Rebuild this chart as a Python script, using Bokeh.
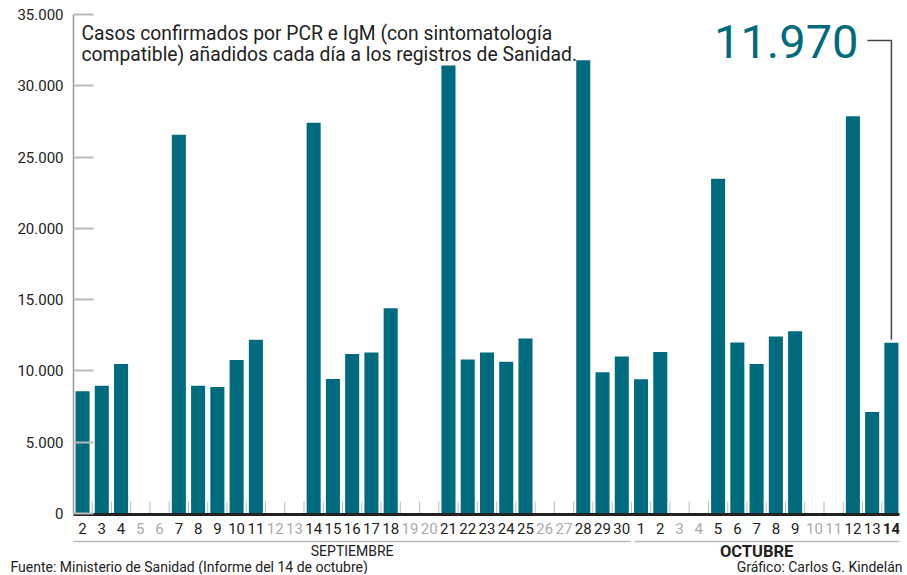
from bokeh.plotting import figure
from bokeh.layouts import column
from bokeh.models import Range1d, FixedTicker, LinearAxis, ColumnDataSource
from bokeh.core.properties import value
from bokeh.embed import file_html
from bokeh.resources import INLINE

# ---------------- data ----------------
sep_days = list(range(2, 31))
oct_days = list(range(1, 15))
days = sep_days + oct_days
# None = no report that day (weekends)
cases = [8580, 8960, 10480, None, None, 26560, 8960, 8870, 10760, 12180, None, None,
         27400, 9440, 11190, 11290, 14390, None, None, 31430, 10800, 11290, 10650, 12270,
         None, None, 31790, 9910, 11020,
         9420, 11330, None, None, 23480, 12000, 10490, 12420, 12790, None, None,
         27860, 7120, 11970]
y_ticks = [0, 5000, 10000, 15000, 20000, 25000, 30000, 35000]
y_tick_labels = ["0", "5.000", "10.000", "15.000", "20.000", "25.000", "30.000", "35.000"]
month_names = ["SEPTIEMBRE", "OCTUBRE"]
subtitle = ["Casos confirmados por PCR e IgM (con sintomatología",
            "compatible) añadidos cada día a los registros de Sanidad."]
highlight_label = "11.970"
source_text = "Fuente: Ministerio de Sanidad (Informe del 14 de octubre)"
credit_text = "Gráfico: Carlos G. Kindelán"

TEAL = "#006b7e"
DARK = "#222222"
GREY = "#aaaaaa"
LINE_GREY = "#bbbbbb"
FONT = "Roboto"

n = len(days)
n_sep = len(sep_days)
idx = list(range(n))
px = 35000 / 499.0   # data units per pixel (vertical)

W, H_MAIN, H_FOOT = 905, 559, 15

p = figure(width=W, height=H_MAIN, output_backend="svg", toolbar_location=None,
           x_range=Range1d(-0.47, 42.42), y_range=Range1d(-(H_MAIN - 513) * px, 35000),
           x_axis_type=None, y_axis_type=None,
           min_border_left=73, min_border_right=W - 899, min_border_top=14,
           min_border_bottom=0)
p.outline_line_color = None
p.xgrid.visible = False
p.ygrid.visible = False
p.frame_align = False

# y axis
yax = LinearAxis(ticker=FixedTicker(ticks=y_ticks), bounds=(0, 35000),
                 major_label_overrides={t: l for t, l in zip(y_ticks, y_tick_labels)})
yax.axis_line_color = "#999999"
yax.axis_line_width = 1.5
yax.major_tick_in = 20
yax.major_tick_out = 0
yax.major_tick_line_color = LINE_GREY
yax.major_tick_line_width = 2
yax.minor_tick_line_color = None
yax.major_label_standoff = 10
yax.major_label_text_font = FONT
yax.major_label_text_font_size = "15px"
yax.major_label_text_color = DARK
p.add_layout(yax, "left")

# bars
bar_x = [i for i in idx if cases[i] is not None]
bar_top = [cases[i] for i in idx if cases[i] is not None]
p.vbar(x=bar_x, top=bar_top, width=0.73, bottom=0, fill_color=TEAL, line_color=None)

# day boundary ticks and baseline
bx = [i + 0.5 for i in idx[:-1]]
p.segment(x0=bx, x1=bx, y0=[0] * len(bx), y1=[12 * px] * len(bx),
          line_color=LINE_GREY, line_width=1)
p.segment(x0=[-0.5], x1=[n - 0.5], y0=[-1 * px], y1=[-1 * px],
          line_color=DARK, line_width=3)

# day labels
lab_src = ColumnDataSource(dict(
    x=idx, y=[-15 * px] * n, text=[str(d) for d in days],
    color=[GREY if c is None else DARK for c in cases],
    style=["normal"] * (n - 1) + ["bold"]))
p.text(x="x", y="y", text="text", source=lab_src, text_align="center",
       text_baseline="middle", text_font=value(FONT), text_font_size=value("15px"),
       text_color="color", text_font_style="style")

# month underlines and names
p.segment(x0=[-0.5, n_sep - 0.33], x1=[n_sep - 0.55, n - 0.5],
          y0=[-28 * px] * 2, y1=[-28 * px] * 2, line_color=LINE_GREY, line_width=1.5)
p.text(x=[(n_sep - 1) / 2.0], y=[-37.5 * px], text=[month_names[0]],
       text_align="center", text_baseline="middle", text_font=value(FONT),
       text_font_size=value("14px"), text_color=DARK)
p.text(x=[35.0], y=[-37.5 * px], text=[month_names[1]],
       text_align="center", text_baseline="middle", text_font=value(FONT),
       text_font_size=value("16.5px"), text_font_style="bold", text_color=DARK)

# subtitle
p.text(x=[-0.055, -0.055], y=[(513 - 33) * px, (513 - 54) * px], text=subtitle,
       text_font=value(FONT), text_font_size=value("19.3px"), text_color=DARK,
       text_align="left", text_baseline="middle")

# highlight of last value
last_i = n - 1
last_v = cases[-1]
p.text(x=[last_i - 1.71], y=[(513 - 41) * px], text=[highlight_label],
       text_font=value(FONT), text_font_size=value("47px"), text_color=TEAL,
       text_align="right", text_baseline="middle")
p.line(x=[last_i - 1.25, last_i, last_i], y=[(513 - 40) * px, (513 - 40) * px, last_v + 3 * px],
       line_color="#444444", line_width=1.5)

# footer strip
f = figure(width=W, height=H_FOOT, output_backend="svg", toolbar_location=None,
           x_range=Range1d(0, W), y_range=Range1d(0, H_FOOT),
           x_axis_type=None, y_axis_type=None,
           min_border_left=0, min_border_right=0, min_border_top=0, min_border_bottom=0)
f.outline_line_color = None
f.xgrid.visible = False
f.ygrid.visible = False
f.frame_align = False
f.text(x=[10], y=[7.5], text=[source_text], text_align="left", text_baseline="middle",
       text_font=value(FONT), text_font_size=value("14px"), text_color=DARK)
f.text(x=[W - 3], y=[7.5], text=[credit_text], text_align="right", text_baseline="middle",
       text_font=value(FONT), text_font_size=value("14px"), text_color=DARK)

layout = column(p, f, spacing=0)
open("out.html", "w").write(file_html(layout, INLINE))
